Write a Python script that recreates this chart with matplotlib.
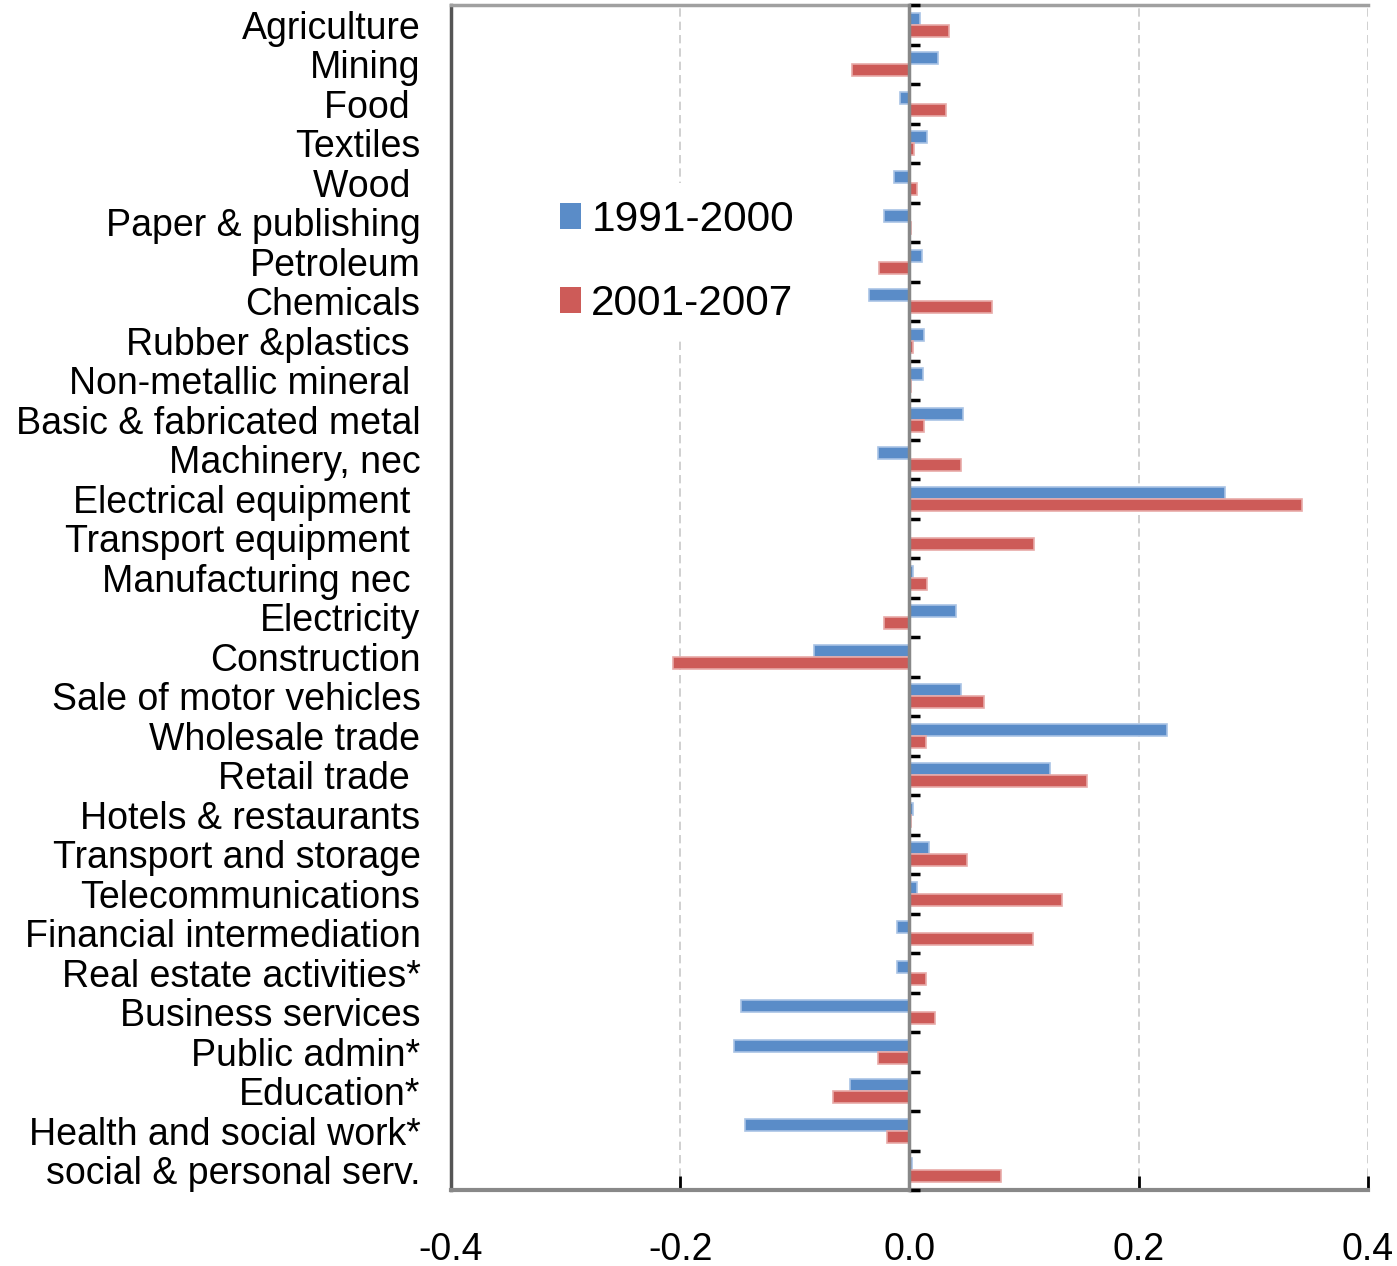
import numpy as np
import matplotlib
matplotlib.use("Agg")
import matplotlib.pyplot as plt
from matplotlib.patches import Patch

plt.rcParams['font.family'] = ['Liberation Sans', 'DejaVu Sans']

# sectors, top to bottom
sectors = [
    "Agriculture", "Mining", "Food ", "Textiles", "Wood ",
    "Paper & publishing", "Petroleum", "Chemicals", "Rubber &plastics ",
    "Non-metallic mineral ", "Basic & fabricated metal", "Machinery, nec",
    "Electrical equipment ", "Transport equipment ", "Manufacturing nec ",
    "Electricity", "Construction", "Sale of motor vehicles", "Wholesale trade",
    "Retail trade ", "Hotels & restaurants", "Transport and storage",
    "Telecommunications", "Financial intermediation", "Real estate activities*",
    "Business services", "Public admin*", "Education*",
    "Health and social work*", "social & personal serv.",
]

# contribution per period
v_1991_2000 = [
    0.0096, 0.025, -0.0082, 0.0151, -0.0137,
    -0.0219, 0.0113, -0.0349, 0.013,
    0.012, 0.047, -0.027,
    0.2753, 0.0005, 0.003,
    0.0407, -0.0834, 0.045, 0.225,
    0.123, 0.003, 0.017,
    0.007, -0.011, -0.011,
    -0.147, -0.153, -0.052,
    -0.1436, 0.0024,
]
v_2001_2007 = [
    0.0347, -0.05, 0.0315, 0.004, 0.0062,
    0.001, -0.0265, 0.072, 0.003,
    0.001, 0.013, 0.045,
    0.3424, 0.1083, 0.0152,
    -0.0221, -0.2064, 0.065, 0.0141,
    0.155, 0.001, 0.05,
    0.133, 0.108, 0.0141,
    0.0219, -0.0275, -0.067,
    -0.0196, 0.08,
]
periods = ["1991-2000", "2001-2007"]

blue = "#5a8cc8"
red = "#cd5b58"

fig = plt.figure(figsize=(13.97, 12.66), dpi=100)
ax = fig.add_axes([0.3228, 0.0600, 0.6564, 0.9360])

y = np.arange(len(sectors))
h = 0.3
ax.barh(y - h / 2, v_1991_2000, height=h, color=blue,
        edgecolor="#a9c3e5", linewidth=1.2, zorder=3)
ax.barh(y + h / 2, v_2001_2007, height=h, color=red,
        edgecolor="#e8aaa8", linewidth=1.2, zorder=3)

ax.set_xlim(-0.4, 0.4)
ax.set_ylim(len(sectors) - 0.5, -0.5)

# category labels on the left frame
ax.set_yticks(y)
ax.set_yticklabels(sectors, fontsize=27)
ax.tick_params(axis="y", length=0, pad=22)

# x axis along the bottom
ax.set_xticks([-0.4, -0.2, 0.0, 0.2, 0.4])
ax.set_xticklabels(["-0.4", "-0.2", "0.0", "0.2", "0.4"], fontsize=27)
ax.tick_params(axis="x", direction="in", length=10, width=2,
               color="black", pad=30)

ax.grid(axis="x", color="#c8c8c8", linestyle=(0, (5, 3)), linewidth=1.2, zorder=0)

ax.spines["left"].set_color("#555555")
ax.spines["left"].set_linewidth(2.5)
ax.spines["top"].set_color("#a0a0a0")
ax.spines["top"].set_linewidth(2.5)
ax.spines["bottom"].set_color("#888888")
ax.spines["bottom"].set_linewidth(3)
ax.spines["right"].set_visible(False)

# category axis at zero with ticks between groups
zero_ax = ax.secondary_yaxis(0, transform=ax.transData)
zero_ax.set_yticks(np.arange(len(sectors) + 1) - 0.5)
zero_ax.set_yticklabels([])
zero_ax.tick_params(length=8, width=2.5, color="black", direction="in")
for s in zero_ax.spines.values():
    s.set_color("#888888")
    s.set_linewidth(2.5)
zero_ax.set_zorder(4)

handles = [Patch(facecolor=blue, edgecolor="none"),
           Patch(facecolor=red, edgecolor="none")]
leg = ax.legend(handles, periods, loc="upper left",
                bbox_to_anchor=(0.10, 0.85), fontsize=30.5,
                handlelength=0.5, handleheight=0.55, handletextpad=0.25,
                labelspacing=1.05, borderpad=0.4, borderaxespad=0,
                frameon=True, fancybox=False)
leg.get_frame().set_facecolor("white")
leg.get_frame().set_edgecolor("none")
leg.get_frame().set_alpha(1)
leg.set_zorder(5)

fig.savefig("out.png", dpi=100)
